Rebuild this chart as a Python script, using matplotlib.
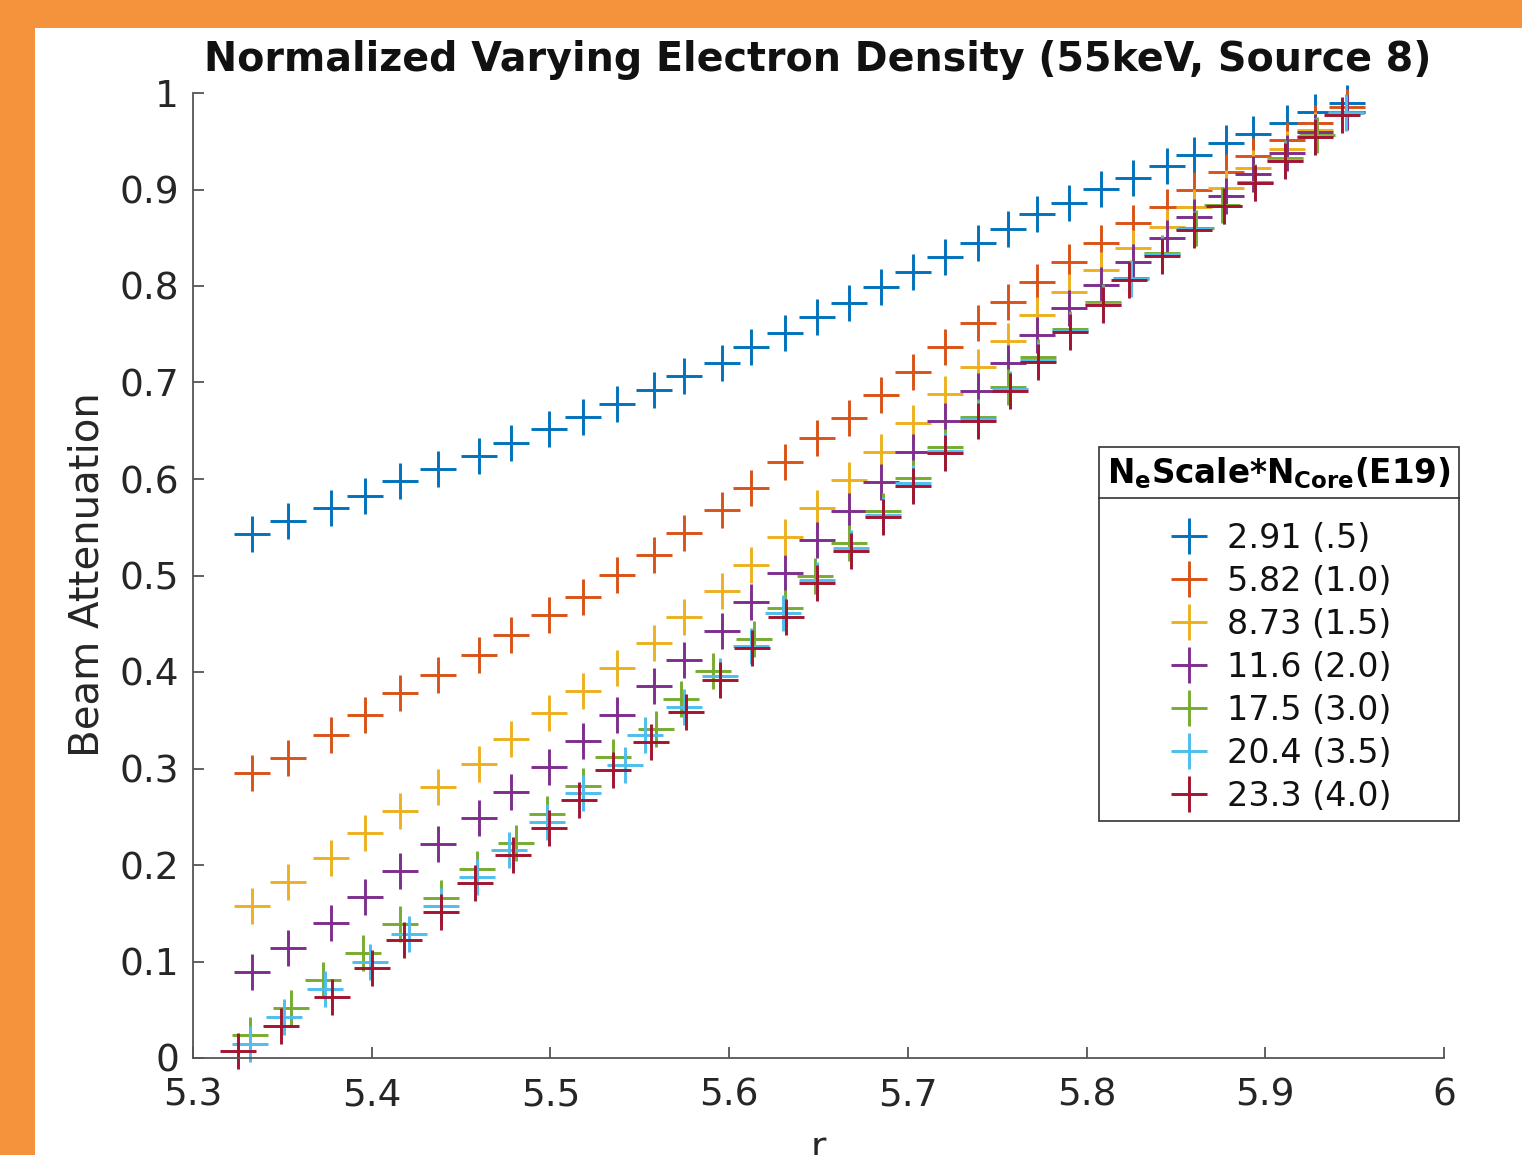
import numpy as np
import matplotlib.pyplot as plt
from matplotlib.patches import Rectangle
from matplotlib.lines import Line2D

plt.rcParams['mathtext.fontset'] = 'dejavusans'

# ---- data ----
r_grid = [5.333, 5.353, 5.377, 5.396, 5.416, 5.437, 5.460, 5.478, 5.499, 5.518,
          5.537, 5.558, 5.575, 5.596, 5.612, 5.631, 5.649, 5.667, 5.685, 5.703,
          5.721, 5.739, 5.756, 5.772, 5.790, 5.808, 5.826, 5.845, 5.860, 5.878,
          5.893, 5.912, 5.928, 5.946]

att_291 = [0.543, 0.556, 0.570, 0.582, 0.598, 0.610, 0.624, 0.637, 0.652, 0.664,
           0.678, 0.692, 0.707, 0.720, 0.737, 0.751, 0.768, 0.782, 0.799, 0.815,
           0.830, 0.845, 0.859, 0.875, 0.886, 0.901, 0.912, 0.924, 0.936, 0.948,
           0.958, 0.969, 0.980, 0.990]
att_582 = [0.295, 0.311, 0.335, 0.355, 0.378, 0.397, 0.418, 0.438, 0.459, 0.478,
           0.501, 0.521, 0.544, 0.568, 0.591, 0.618, 0.643, 0.663, 0.687, 0.711,
           0.737, 0.762, 0.783, 0.804, 0.825, 0.845, 0.865, 0.882, 0.900, 0.918,
           0.935, 0.951, 0.969, 0.985]
att_873 = [0.158, 0.182, 0.207, 0.233, 0.256, 0.281, 0.305, 0.331, 0.357, 0.380,
           0.404, 0.430, 0.457, 0.484, 0.511, 0.540, 0.570, 0.599, 0.628, 0.658,
           0.688, 0.716, 0.743, 0.770, 0.794, 0.817, 0.839, 0.861, 0.882, 0.902,
           0.922, 0.942, 0.962, 0.980]
att_116 = [0.089, 0.114, 0.140, 0.167, 0.194, 0.222, 0.249, 0.276, 0.302, 0.328,
           0.355, 0.385, 0.412, 0.442, 0.473, 0.503, 0.537, 0.567, 0.597, 0.628,
           0.660, 0.691, 0.720, 0.749, 0.777, 0.801, 0.825, 0.850, 0.872, 0.893,
           0.916, 0.938, 0.960, 0.980]

r_175 = [5.332, 5.355, 5.373, 5.395, 5.416, 5.439, 5.459, 5.481, 5.498, 5.518,
         5.535, 5.559, 5.573, 5.591, 5.614, 5.631, 5.648, 5.667, 5.686, 5.703,
         5.721, 5.739, 5.756, 5.773, 5.791, 5.809, 5.825, 5.842, 5.861, 5.876,
         5.894, 5.911, 5.929, 5.945]
att_175 = [0.024, 0.052, 0.081, 0.109, 0.139, 0.166, 0.196, 0.223, 0.253, 0.282,
           0.312, 0.341, 0.372, 0.401, 0.434, 0.466, 0.499, 0.534, 0.567, 0.601,
           0.633, 0.664, 0.695, 0.726, 0.755, 0.783, 0.808, 0.834, 0.860, 0.884,
           0.908, 0.933, 0.956, 0.980]

r_204 = [5.332, 5.351, 5.374, 5.399, 5.421, 5.439, 5.459, 5.477, 5.498, 5.518,
         5.542, 5.553, 5.575, 5.595, 5.612, 5.630, 5.649, 5.668, 5.686, 5.703,
         5.721, 5.739, 5.757, 5.773, 5.791, 5.809, 5.825, 5.842, 5.860, 5.877,
         5.894, 5.911, 5.928, 5.945]
att_204 = [0.015, 0.042, 0.072, 0.099, 0.128, 0.158, 0.188, 0.216, 0.245, 0.275,
           0.304, 0.335, 0.364, 0.396, 0.427, 0.461, 0.495, 0.528, 0.563, 0.596,
           0.629, 0.662, 0.693, 0.723, 0.753, 0.781, 0.807, 0.833, 0.859, 0.883,
           0.907, 0.931, 0.955, 0.979]

r_233 = [5.325, 5.349, 5.378, 5.400, 5.418, 5.439, 5.458, 5.479, 5.499, 5.516,
         5.535, 5.556, 5.576, 5.595, 5.613, 5.632, 5.649, 5.668, 5.686, 5.703,
         5.721, 5.739, 5.757, 5.773, 5.791, 5.809, 5.824, 5.842, 5.860, 5.877,
         5.894, 5.911, 5.928, 5.943]
att_233 = [0.007, 0.033, 0.063, 0.093, 0.122, 0.151, 0.181, 0.210, 0.238, 0.267,
           0.298, 0.327, 0.359, 0.392, 0.425, 0.457, 0.492, 0.525, 0.561, 0.593,
           0.627, 0.660, 0.691, 0.721, 0.752, 0.780, 0.806, 0.831, 0.858, 0.883,
           0.907, 0.930, 0.954, 0.977]

labels = ['2.91 (.5)', '5.82 (1.0)', '8.73 (1.5)', '11.6 (2.0)',
          '17.5 (3.0)', '20.4 (3.5)', '23.3 (4.0)']
colors = ['#0072BD', '#D95319', '#EDB120', '#7E2F8E', '#77AC30', '#4DBEEE', '#A2142F']

series = [(r_grid, att_291), (r_grid, att_582), (r_grid, att_873), (r_grid, att_116),
          (r_175, att_175), (r_204, att_204), (r_233, att_233)]

# ---- figure ----
W, H = 1522, 1155
fig = plt.figure(figsize=(W / 100, H / 100), dpi=100, facecolor='#F5923C')
fig.add_artist(Rectangle((35 / W, 0), 1, 1 - 28 / H, transform=fig.transFigure,
                         facecolor='white', edgecolor='none', zorder=0))

ax = fig.add_axes([193 / W, 1 - 1058 / H, (1444 - 193) / W, (1058 - 93) / H])
ax.set_facecolor('none')

for (x, y), c, lab in zip(series, colors, labels):
    ax.plot(x, y, linestyle='none', marker='+', markersize=26, markeredgewidth=2.1,
            color=c, label=lab, clip_on=False)

ax.set_xlim(5.3, 6)
ax.set_ylim(0, 1)
ax.set_xticks([5.3, 5.4, 5.5, 5.6, 5.7, 5.8, 5.9, 6])
ax.set_xticklabels(['5.3', '5.4', '5.5', '5.6', '5.7', '5.8', '5.9', '6'])
ax.set_yticks(np.arange(0, 1.01, 0.1))
ax.set_yticklabels(['0', '0.1', '0.2', '0.3', '0.4', '0.5', '0.6', '0.7', '0.8', '0.9', '1'])

for s in ['top', 'right']:
    ax.spines[s].set_visible(False)
for s in ['left', 'bottom']:
    ax.spines[s].set_color('#555555')
    ax.spines[s].set_linewidth(1.3)
ax.tick_params(direction='in', length=8, width=1.3, color='#555555',
               labelsize=27, labelcolor='#262626')
ax.tick_params(axis='x', pad=14)
ax.tick_params(axis='y', pad=10)

fig.text(818 / W, 1 - 60 / H, 'Normalized Varying Electron Density (55keV, Source 8)',
         ha='center', va='center', fontsize=28.5, fontweight='bold', color='#111111')
fig.text(88 / W, 1 - 575 / H, 'Beam Attenuation', rotation=90, ha='center',
         va='center', fontsize=29, color='#262626')
fig.text(818 / W, 1 - 1131 / H, 'r', ha='center', va='top', fontsize=27, color='#262626')

leg = ax.legend(loc='upper left', bbox_to_anchor=(1099 / W, 1 - 447 / H),
                bbox_transform=fig.transFigure, borderaxespad=0, fontsize=24,
                frameon=True, fancybox=False, edgecolor='#333333', handlelength=1.3,
                handletextpad=0.5, labelspacing=0.3, borderpad=0.25,
                title=r'$\mathbf{N_{e}Scale{*}N_{Core}(E19)}$', title_fontsize=23.5)
leg.get_frame().set_linewidth(1.2)
leg.get_frame().set_alpha(1)
leg._legend_box.sep = 22
for t in leg.get_texts():
    t.set_color('#111111')

# separator line under the legend title, spanning the legend frame
fig.canvas.draw()
r = fig.canvas.get_renderer()
fb = leg.get_frame().get_window_extent(r)
tb = leg.get_title().get_window_extent(r)
yline = tb.y0 - 7
fig.add_artist(Line2D([fb.x0 / W, fb.x1 / W], [yline / H, yline / H],
                      transform=fig.transFigure, color='#333333', linewidth=1.2))

fig.savefig('out.png', dpi=100, facecolor=fig.get_facecolor())
